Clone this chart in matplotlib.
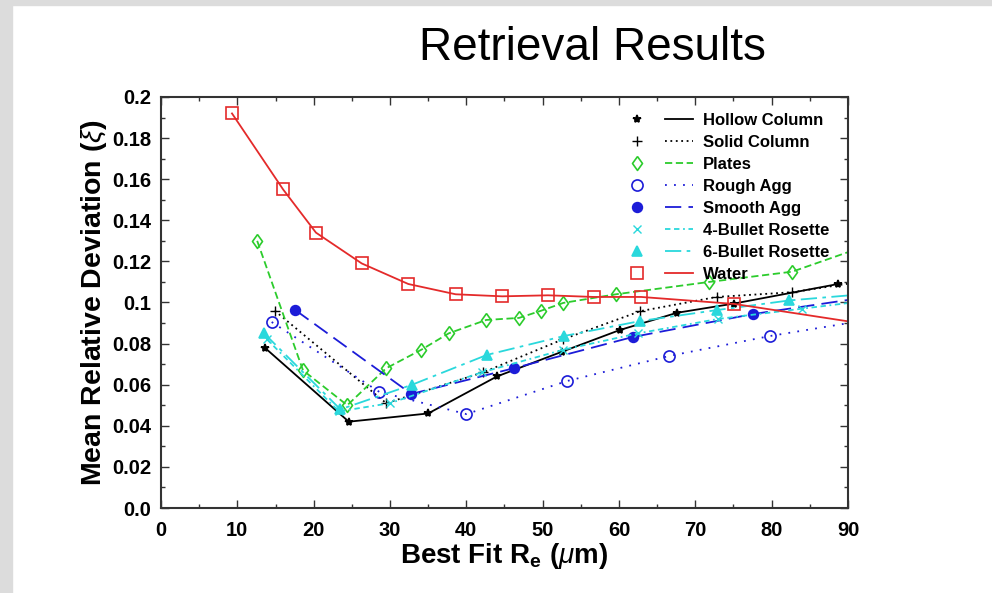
import matplotlib
matplotlib.use("Agg")
import matplotlib.pyplot as plt
from matplotlib.patches import Rectangle
from matplotlib.legend_handler import HandlerTuple
from matplotlib.lines import Line2D
from matplotlib.ticker import MultipleLocator, FixedLocator, FixedFormatter

plt.rcParams['font.family'] = ['Liberation Sans', 'DejaVu Sans']
plt.rcParams['mathtext.fontset'] = 'custom'
plt.rcParams['mathtext.rm'] = 'Liberation Sans'
plt.rcParams['mathtext.it'] = 'Liberation Sans:italic'
plt.rcParams['mathtext.bf'] = 'Liberation Sans:bold'

# data (clipped at x = 90)
hollow_x = [13.6, 24.6, 35.0, 44.0, 52.5, 60.1, 67.6, 75.1, 88.7]
hollow_y = [0.078, 0.042, 0.046, 0.064, 0.076, 0.0866, 0.095, 0.0995, 0.109]

solid_x = [14.9, 29.5, 42.2, 52.6, 62.8, 72.8, 82.7, 95.0]
solid_y = [0.096, 0.051, 0.066, 0.082, 0.0958, 0.1027, 0.105, 0.112]

plates_x = [12.6, 18.6, 24.4, 29.5, 34.1, 37.7, 42.6, 46.9, 49.8, 52.7, 59.6, 71.8, 82.7, 95.0]
plates_y = [0.130, 0.067, 0.050, 0.068, 0.077, 0.085, 0.0915, 0.0925, 0.096, 0.0998, 0.104, 0.110, 0.115, 0.131]

rough_x = [14.5, 28.6, 40.0, 53.2, 66.6, 79.8, 95.0]
rough_y = [0.0905, 0.0565, 0.0457, 0.0618, 0.074, 0.0837, 0.093]

smooth_x = [17.6, 32.8, 46.2, 61.8, 77.6, 95.0]
smooth_y = [0.0963, 0.0555, 0.068, 0.0832, 0.0944, 0.104]

bullet4_x = [13.9, 23.3, 30.0, 42.0, 52.7, 62.5, 73.0, 84.0, 95.0]
bullet4_y = [0.082, 0.047, 0.051, 0.066, 0.077, 0.085, 0.092, 0.097, 0.102]

bullet6_x = [13.5, 23.5, 32.9, 42.7, 52.8, 62.8, 72.8, 82.3, 95.0]
bullet6_y = [0.085, 0.048, 0.060, 0.0745, 0.0837, 0.091, 0.0963, 0.101, 0.105]

water_x = [9.3, 16.0, 20.3, 26.3, 32.4, 38.6, 44.7, 50.7, 56.7, 62.9, 75.1, 95.0]
water_y = [0.192, 0.155, 0.134, 0.119, 0.109, 0.104, 0.103, 0.1035, 0.1027, 0.1027, 0.0993, 0.088]

y_ticks = [0.0, 0.02, 0.04, 0.06, 0.08, 0.1, 0.12, 0.14, 0.16, 0.18, 0.2]
y_labels = ['0.0', '0.02', '0.04', '0.06', '0.08', '0.1', '0.12', '0.14', '0.16', '0.18', '0.2']

red = '#e42a2a'
green = '#2ccc2c'
blue = '#1c1cd8'
cyan = '#2ad8dc'

# slightly tall diamond like the gnuplot one
diamond = [(0, 1), (0.72, 0), (0, -1), (-0.72, 0), (0, 1)]

series = [
    ('Hollow Column', hollow_x, hollow_y, 'black', '-', '*', 'black', 6),
    ('Solid Column', solid_x, solid_y, 'black', (0, (1, 2)), '+', 'black', 7),
    ('Plates', plates_x, plates_y, green, (0, (4, 2)), diamond, 'none', 10),
    ('Rough Agg', rough_x, rough_y, blue, (0, (1, 4)), 'o', 'none', 8),
    ('Smooth Agg', smooth_x, smooth_y, blue, (0, (9, 4)), 'o', blue, 7),
    ('4-Bullet Rosette', bullet4_x, bullet4_y, cyan, (0, (3, 2, 3, 2, 1, 2)), 'x', cyan, 6),
    ('6-Bullet Rosette', bullet6_x, bullet6_y, cyan, (0, (9, 3, 2, 3)), '^', cyan, 7),
    ('Water', water_x, water_y, red, '-', 's', 'none', 8),
]

fig = plt.figure(figsize=(9.92, 5.93), dpi=100)
fig.patches.append(Rectangle((0, 0), 12 / 992, 1, transform=fig.transFigure,
                             color='#dcdcdc', zorder=0))
fig.patches.append(Rectangle((0, 1 - 5 / 593), 1, 5 / 593, transform=fig.transFigure,
                             color='#dcdcdc', zorder=0))

ax = fig.add_axes([161 / 992, 85 / 593, 687 / 992, 411 / 593])

handles = []
for name, xs, ys, col, ls, mk, fc, ms in series:
    mew = 1.0 if mk in ('+', 'x') else 1.2
    ax.plot(xs, ys, color=col, linestyle=ls, linewidth=1.3, marker=mk,
            markersize=ms, markerfacecolor=fc, markeredgecolor=col,
            markeredgewidth=mew, clip_on=True)
    m = Line2D([], [], linestyle='none', marker=mk, markersize=ms,
               markerfacecolor=fc, markeredgecolor=col, markeredgewidth=mew)
    l = Line2D([], [], color=col, linestyle=ls, linewidth=1.3)
    handles.append((m, l))

ax.set_xlim(0, 90)
ax.set_ylim(0, 0.2)
ax.xaxis.set_major_locator(MultipleLocator(10))
ax.xaxis.set_minor_locator(MultipleLocator(5))
ax.yaxis.set_major_locator(FixedLocator(y_ticks))
ax.yaxis.set_major_formatter(FixedFormatter(y_labels))
ax.yaxis.set_minor_locator(MultipleLocator(0.01))
ax.tick_params(which='both', direction='in', top=True, right=True, color='#333333')
ax.tick_params(which='major', length=6, width=1, labelsize=14.5)
ax.tick_params(axis='x', which='major', pad=9)
ax.tick_params(axis='y', which='major', pad=7)
ax.tick_params(which='minor', length=3, width=1)
for lab in ax.get_xticklabels() + ax.get_yticklabels():
    lab.set_fontweight('bold')
for sp in ax.spines.values():
    sp.set_linewidth(1.5)
    sp.set_color('#333333')

ax.set_xlabel(r'Best Fit R$_\mathbf{e}$ ($\mu$m)', fontsize=20, fontweight='bold', labelpad=1)
ax.set_ylabel(r'Mean Relative Deviation ($\xi$)', fontsize=20.5, fontweight='bold', labelpad=2)

ax.legend(handles, [s[0] for s in series],
          handler_map={tuple: HandlerTuple(ndivide=2, pad=0.8)},
          loc='upper right', bbox_to_anchor=(0.99, 0.99), frameon=False,
          prop={'weight': 'bold', 'size': 12}, handlelength=4.2,
          handletextpad=0.6, labelspacing=0.42, borderpad=0.2)

fig.text(592 / 992, 1 - 48 / 593, 'Retrieval Results', fontsize=33,
         ha='center', va='center')

fig.savefig('out.png', dpi=100)
